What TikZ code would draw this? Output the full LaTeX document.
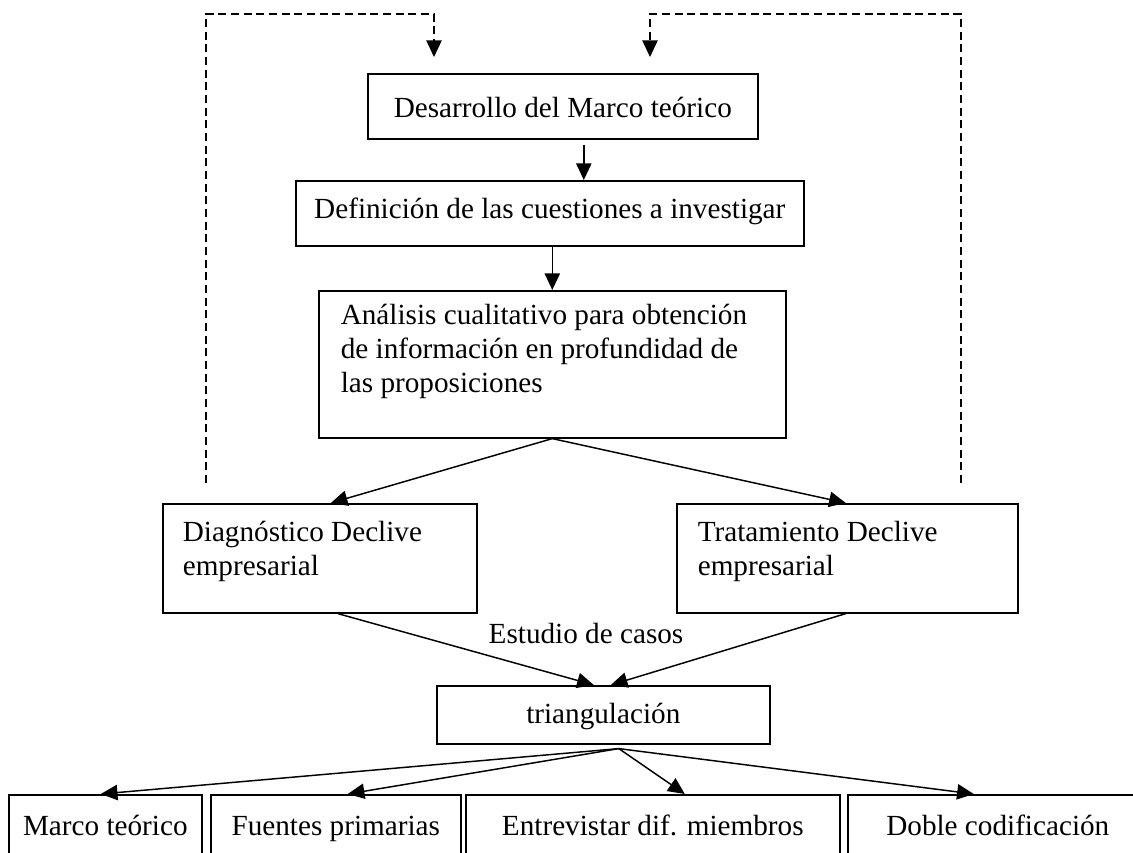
\documentclass[tikz,border=0pt]{standalone}
\usepackage{fontspec}
\setmainfont{Liberation Serif}
\usetikzlibrary{arrows.meta,calc}
\begin{document}
\begin{tikzpicture}[x=0.75pt,y=-0.75pt,
  every node/.style={font=\fontsize{21.9}{25.5}\selectfont},
  box/.style={draw, line width=1.2pt, inner sep=0pt, anchor=north west},
  mbox/.style={box, align=flush left, inner ysep=0pt},
  arr/.style={line width=1.1pt, -{Triangle[length=12.5pt,width=11.5pt]}},
  fb/.style={arr, dash pattern=on 6pt off 3.5pt},
  lbl/.style={inner sep=0pt, anchor=base}]
\useasboundingbox (0,0) rectangle (1133,853);
\clip (0,0) rectangle (1133,853);

% boxes
\node[box, minimum width=292.5pt, text height=33pt, text depth=15.75pt] (marco) at (367,73) {Desarrollo del Marco teórico};
\node[box, minimum width=381pt, text height=28.5pt, text depth=20.25pt] (defin) at (295,180) {Definición de las cuestiones a investigar};
\node[mbox, text width=317.25pt, inner xsep=16.5pt, text height=25.5pt, text depth=84.75pt] (analisis) at (318,290)
  {Análisis cualitativo para obtención\\de información en profundidad de\\las proposiciones};
\node[mbox, text width=205.5pt, inner xsep=15pt, text height=28.5pt, text depth=53.25pt] (diag) at (162,503)
  {Diagnóstico Declive\\empresarial};
\node[mbox, text width=224.25pt, inner xsep=15.75pt, text height=28.5pt, text depth=53.25pt] (trat) at (676,503)
  {Tratamiento Declive\\empresarial};
\node[box, minimum width=249.75pt, text height=28pt, text depth=15.5pt] (triang) at (436,685) {triangulación};
\node[box, minimum width=144.75pt, text height=30.75pt, text depth=40pt] (marcob) at (8,794) {Marco teórico};
\node[box, minimum width=187.5pt, text height=30.75pt, text depth=40pt] (fuentes) at (210,794) {Fuentes primarias};
\node[box, minimum width=280.5pt, text height=30.75pt, text depth=40pt] (entrev) at (465,794) {Entrevistar dif. miembros};
\node[box, minimum width=225pt, text height=30.75pt, text depth=40pt] (doble) at (847,794) {Doble codificación};

\node[lbl] (estudio) at (586,643) {Estudio de casos};

% solid connectors
\draw[arr] ($(marco.south)+(21,5)$) -- ($(defin.north)+(34,0)$);
\draw[arr] (analisis.north |- defin.south) -- (analisis.north);
\draw[arr] (analisis.south) -- ($(diag.north)+(11,0)$);
\draw[arr] (analisis.south) -- ($(trat.north)+(-1.5,0)$);
\draw[arr] ($(diag.south)+(18,0)$) -- ($(triang.north)+(-9.5,0)$);
\draw[arr] ($(trat.south)+(-1.5,0)$) -- ($(triang.north)+(7.5,0)$);
\coordinate (tb) at ($(triang.south)+(15.5,4)$);
\draw[arr] (tb) -- ($(marcob.north)+(-4.5,0)$);
\draw[arr] (tb) -- ($(fuentes.north)+(12,0)$);
\draw[arr] (tb) -- ($(entrev.north)+(32,0)$);
\draw[arr] (tb) -- ($(doble.north)+(-24,0)$);

% dashed feedback connectors
\coordinate (topy) at (0,14);
\coordinate (dl0) at (206,483);
\coordinate (dl1) at (434,57);
\coordinate (dr0) at (961,483);
\coordinate (dr1) at (650,57);
\draw[fb] (dl0) |- (dl1 |- topy) -- (dl1);
\draw[fb] (dr0) |- (dr1 |- topy) -- (dr1);
\end{tikzpicture}
\end{document}
